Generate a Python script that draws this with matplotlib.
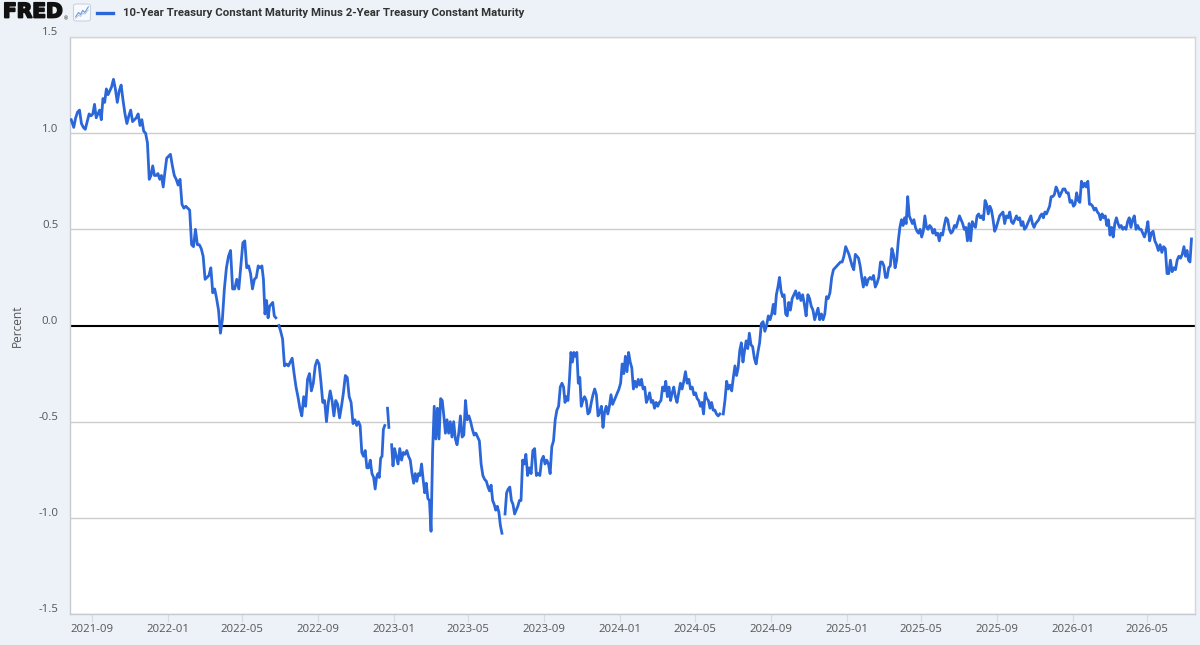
import numpy as np
import pandas as pd
import matplotlib
matplotlib.use("Agg")
import matplotlib.pyplot as plt
from matplotlib.lines import Line2D
from matplotlib.patches import FancyBboxPatch
import matplotlib.transforms as mtransforms
import matplotlib.patheffects as pe

# ---------------- data ----------------
series_name = "10-Year Treasury Constant Maturity Minus 2-Year Treasury Constant Maturity"
series_start = "2021-07-27"
series_end = "2026-07-12"
# values per calendar month, in order within the month; None = missing observation
monthly_values = {
    "2021-07": [1.07],
    "2021-08": [1.03, 1.08, 1.11, 1.12, 1.05, 1.03, 1.02, 1.06, 1.10, 1.09],
    "2021-09": [1.10, 1.15, 1.08, 1.10, 1.12, 1.07, 1.18, 1.16, 1.23, 1.20, 1.22],
    "2021-10": [1.24, 1.28, 1.23, 1.16, 1.22, 1.25, 1.17, 1.10, 1.05, 1.09],
    "2021-11": [1.12, 1.06, 1.07, 1.08, 1.10, 1.04, 1.07, 1.01, 1.00, 0.95],
    "2021-12": [0.76, 0.78, 0.83, 0.78, 0.78, 0.79, 0.76, 0.78, 0.72, 0.80, 0.87],
    "2022-01": [0.88, 0.89, 0.83, 0.78, 0.76, 0.73, 0.76, 0.63, 0.61, 0.62],
    "2022-02": [0.61, 0.60, 0.42, 0.41, 0.50, 0.42, 0.42, 0.40, 0.36],
    "2022-03": [0.24, 0.25, 0.26, 0.30, 0.17, 0.19, 0.14, 0.08, -0.04, 0.03],
    "2022-04": [0.19, 0.30, 0.36, 0.39, 0.19, 0.19, 0.24, 0.19, 0.31],
    "2022-05": [0.43, 0.44, 0.30, 0.31, 0.27, 0.19, 0.24, 0.25, 0.31, 0.30],
    "2022-06": [0.31, 0.24, 0.06, 0.13, 0.04, 0.10, 0.11, 0.12, 0.05, 0.04, None, 0.00],
    "2022-07": [-0.03, -0.07, -0.21, -0.20, -0.21, -0.19, -0.17, -0.25, -0.32, -0.37],
    "2022-08": [-0.43, -0.47, -0.37, -0.42, -0.28, -0.25, -0.34, -0.30, -0.21, -0.18],
    "2022-09": [-0.20, -0.29, -0.40, -0.39, -0.50, -0.40, -0.34, -0.39, -0.47, -0.39],
    "2022-10": [-0.41, -0.48, -0.42, -0.35, -0.26, -0.27, -0.37, -0.40, -0.51, -0.49],
    "2022-11": [-0.52, -0.50, -0.52, -0.66, -0.68, -0.65, -0.74, -0.74, -0.70, -0.77, -0.79],
    "2022-12": [-0.85, -0.79, -0.77, -0.79, -0.69, -0.68, -0.54, -0.52, None, -0.43, -0.53, None, -0.62, -0.73],
    "2023-01": [-0.64, -0.68, -0.72, -0.64, -0.70, -0.66, -0.67, -0.65, -0.68, -0.70, -0.77],
    "2023-02": [-0.82, -0.77, -0.81, -0.77, -0.78, -0.72, -0.80, -0.87, -0.82, -0.90, -0.91],
    "2023-03": [-1.07, -0.65, -0.42, -0.59, -0.43, -0.59, -0.38, -0.39, -0.47, -0.56, -0.49, -0.56],
    "2023-04": [-0.50, -0.58, -0.50, -0.59, -0.62, -0.56, -0.47, -0.58, -0.57, -0.39, -0.49],
    "2023-05": [-0.47, -0.50, -0.54, -0.57, -0.56, -0.58, -0.60, -0.72, -0.78, -0.80, -0.81],
    "2023-06": [-0.84, -0.86, -0.83, -0.91, -0.93, -0.96, -0.94, -0.97, -1.04, -1.08, None, -0.98],
    "2023-07": [-0.87, -0.85, -0.84, -0.91, -0.93, -0.98, -0.96, -0.94, -0.91, -0.91, -0.70, -0.72],
    "2023-08": [-0.67, -0.78, -0.74, -0.77, -0.65, -0.64, -0.78, -0.77, -0.78, -0.70, -0.68],
    "2023-09": [-0.72, -0.70, -0.72, -0.77, -0.63, -0.60, -0.49, -0.44, -0.42, -0.32, -0.30],
    "2023-10": [-0.32, -0.40, -0.37, -0.39, -0.28, -0.14, -0.19, -0.14, -0.16, -0.14, -0.30, -0.27, -0.42],
    "2023-11": [-0.39, -0.37, -0.39, -0.46, -0.45, -0.40, -0.36, -0.33, -0.36, -0.47, -0.45],
    "2023-12": [-0.42, -0.53, -0.45, -0.42, -0.46, -0.42, -0.36, -0.41, -0.39, -0.37, -0.35, -0.33],
    "2024-01": [-0.30, -0.20, -0.25, -0.16, -0.24, -0.14, -0.19, -0.22, -0.33, -0.29, -0.32, -0.28],
    "2024-02": [-0.31, -0.28, -0.33, -0.32, -0.40, -0.38, -0.35, -0.40, -0.39, -0.43, -0.40],
    "2024-03": [-0.42, -0.40, -0.39, -0.32, -0.34, -0.29, -0.37, -0.32, -0.39, -0.35, -0.32, -0.37],
    "2024-04": [-0.40, -0.35, -0.30, -0.33, -0.29, -0.24, -0.30, -0.28, -0.33, -0.32, -0.36],
    "2024-05": [-0.35, -0.38, -0.39, -0.42, -0.40, -0.46, -0.35, -0.38, -0.39, -0.43, -0.40, -0.44],
    "2024-06": [-0.44, -0.46, -0.47, -0.46, None, -0.46, -0.39, -0.29, -0.33, -0.31, -0.34],
    "2024-07": [-0.27, -0.21, -0.26, -0.22, -0.13, -0.09, -0.19, -0.13, -0.08, -0.12, -0.04, -0.10],
    "2024-08": [-0.11, -0.17, -0.20, -0.14, -0.09, 0.01, 0.02, -0.03, 0.00, 0.05, 0.03],
    "2024-09": [0.06, 0.11, 0.06, 0.16, 0.20, 0.25, 0.18, 0.15, 0.16, 0.06, 0.05, 0.12],
    "2024-10": [0.08, 0.14, 0.16, 0.18, 0.14, 0.17, 0.13, 0.16, 0.11, 0.05, 0.16],
    "2024-11": [0.14, 0.10, 0.08, 0.03, 0.06, 0.09, 0.03, 0.06, 0.03, 0.06, 0.15],
    "2024-12": [0.14, 0.17, 0.25, 0.29, 0.30, 0.31, 0.32, 0.33, 0.33, 0.36, 0.41],
    "2025-01": [0.39, 0.37, 0.34, 0.31, 0.29, 0.37, 0.36, 0.35, 0.31, 0.25, 0.20, 0.25],
    "2025-02": [0.21, 0.24, 0.25, 0.24, 0.26, 0.20, 0.22, 0.25, 0.33, 0.33],
    "2025-03": [0.31, 0.25, 0.25, 0.30, 0.31, 0.40, 0.37, 0.30, 0.34, 0.44, 0.51, 0.55],
    "2025-04": [0.52, 0.56, 0.53, 0.67, 0.57, 0.55, 0.53, 0.55, 0.51, 0.49, 0.48, 0.50],
    "2025-05": [0.46, 0.49, 0.57, 0.51, 0.50, 0.52, 0.51, 0.48, 0.50, 0.47, 0.48, 0.44],
    "2025-06": [0.48, 0.47, 0.52, 0.56, 0.55, 0.50, 0.48, 0.49, 0.52, 0.51, 0.54],
    "2025-07": [0.57, 0.55, 0.53, 0.50, 0.51, 0.44, 0.53, 0.44, 0.54, 0.52, 0.51, 0.57],
    "2025-08": [0.58, 0.56, 0.57, 0.55, 0.65, 0.63, 0.58, 0.62, 0.60, 0.55, 0.49, 0.51],
    "2025-09": [0.54, 0.57, 0.58, 0.59, 0.53, 0.57, 0.56, 0.59, 0.54, 0.53, 0.55],
    "2025-10": [0.57, 0.55, 0.56, 0.52, 0.54, 0.50, 0.51, 0.53, 0.55, 0.57, 0.53, 0.51],
    "2025-11": [0.53, 0.54, 0.55, 0.57, 0.58, 0.56, 0.59, 0.58, 0.60, 0.62, 0.67, 0.67],
    "2025-12": [0.68, 0.72, 0.70, 0.67, 0.69, 0.71, 0.71, 0.69, 0.69, 0.64, 0.65],
    "2026-01": [0.62, 0.63, 0.69, 0.65, 0.64, 0.75, 0.72, 0.74, 0.72, 0.75, 0.63, 0.63],
    "2026-02": [0.62, 0.60, 0.61, 0.59, 0.58, 0.55, 0.58, 0.56, 0.57, 0.52, 0.55],
    "2026-03": [0.47, 0.51, 0.46, 0.53, 0.56, 0.53, 0.51, 0.52, 0.50, 0.51, 0.50, 0.54],
    "2026-04": [0.56, 0.51, 0.55, 0.57, 0.50, 0.52, 0.50, 0.50, 0.48, 0.46, 0.49],
    "2026-05": [0.54, 0.44, 0.48, 0.49, 0.44, 0.42, 0.39, 0.42, 0.38, 0.41, 0.40],
    "2026-06": [0.27, 0.27, 0.34, 0.28, 0.30, 0.29, 0.34, 0.36, 0.35, 0.37, 0.41],
    "2026-07": [0.36, 0.39, 0.34, 0.33, 0.45],
}
y_ticks = [-1.5, -1.0, -0.5, 0.0, 0.5, 1.0, 1.5]
y_tick_labels = ["-1.5", "-1.0", "-0.5", "0.0", "0.5", "1.0", "1.5"]
x_tick_months = ["2021-09", "2022-01", "2022-05", "2022-09", "2023-01", "2023-05", "2023-09",
                 "2024-01", "2024-05", "2024-09", "2025-01", "2025-05", "2025-09", "2026-01",
                 "2026-05"]
x_view = ("2021-07-27 12:00", "2026-07-17 12:00")
y_label = "Percent"

# ---------------- build the series ----------------
start_ts = pd.Timestamp(series_start)
end_ts = pd.Timestamp(series_end) + pd.Timedelta(days=1)
dates, vals = [], []
for month, vs in monthly_values.items():
    ms = pd.Timestamp(month + "-01")
    me = ms + pd.offsets.MonthBegin(1)
    s = max(ms, start_ts)
    e = min(me, end_ts)
    n = len(vs)
    for i, v in enumerate(vs):
        dates.append(s + (e - s) * ((i + 0.5) / n))
        vals.append(np.nan if v is None else v)
dates = pd.to_datetime(dates)
vals = np.array(vals, dtype=float)

# ---------------- style ----------------
BG = "#edf2f8"
LINE = "#2b67d8"
GRID = "#cccccc"
TXT = "#555555"

plt.rcParams["font.family"] = ["Open Sans", "DejaVu Sans"]

fig = plt.figure(figsize=(12, 6.45), dpi=100, facecolor=BG)
W, H = 1200, 645
ax = fig.add_axes([70 / W, 1 - 614 / H, 1125 / W, (614 - 37) / H])
ax.set_facecolor("white")

ax.plot(dates, vals, color=LINE, lw=2.0, solid_joinstyle="round", zorder=3)

ax.set_xlim(pd.Timestamp(x_view[0]), pd.Timestamp(x_view[1]))
ax.set_ylim(-1.5, 1.5)

ax.set_yticks(y_ticks)
ax.set_yticklabels(y_tick_labels)
ax.set_xticks(pd.to_datetime([m + "-01" for m in x_tick_months]))
ax.set_xticklabels(x_tick_months)

for y in y_ticks:
    if y == 0:
        ax.axhline(0, color="#000000", lw=1.5, zorder=2)
    else:
        ax.axhline(y, color=GRID, lw=1.0, zorder=1)

for side in ["top", "right"]:
    ax.spines[side].set_color("#d6d6d6")
    ax.spines[side].set_linewidth(1.0)
for side in ["left", "bottom"]:
    ax.spines[side].set_color("#c6cbd3")
    ax.spines[side].set_linewidth(1.0)

ax.tick_params(axis="y", length=0, pad=8.5, labelsize=8.2, labelcolor=TXT)
ax.tick_params(axis="x", length=6, width=0.8, color="#d5dbe3", pad=1,
               labelsize=8.2, labelcolor=TXT)
# labels sit a little above their grid line, as in the reference
offset = mtransforms.ScaledTranslation(0, 4 / 72, fig.dpi_scale_trans)
for lab in ax.get_yticklabels():
    lab.set_transform(lab.get_transform() + offset)

ax.set_ylabel(y_label, fontsize=8.6, color=TXT)
ax.yaxis.set_label_coords(-(70 - 24) / 1125, 0.5)

# ---------------- header ----------------
fig.text(3 / W, 1 - 12 / H, "FRED", fontsize=14.5, fontweight="bold",
         family=["DejaVu Sans"], color="#111111", va="center", ha="left",
         path_effects=[pe.Stroke(linewidth=1.3, foreground="#111111"), pe.Normal()])
fig.text(64 / W, 1 - 19 / H, "®", fontsize=3.5, color="#111111", va="center", ha="left")
fig.add_artist(FancyBboxPatch((73.5 / W, 1 - 21 / H), 17 / W, 17 / H,
                              boxstyle="round,pad=0,rounding_size=0.003",
                              transform=fig.transFigure, facecolor="#f8fafd",
                              edgecolor="#c9d3e0", lw=0.8, zorder=1))
icon = fig.add_axes([75 / W, 1 - 19.5 / H, 14 / W, 14 / H])
icon.set_zorder(5)
icon.axis("off")
icon.set_xlim(0, 10)
icon.set_ylim(0, 10)
icon.plot([0.5, 2.5, 4, 5.5, 7, 9.5], [2, 5, 3.5, 6.5, 5, 9], color="#6f98d6", lw=0.8)
icon.plot([0.5, 2.5, 4, 5.5, 7, 9.5], [0.8, 3, 2.2, 4.5, 3.8, 6.8], color="#a9c0e4", lw=0.6)
fig.add_artist(Line2D([97 / W, 113 / W], [1 - 13 / H, 1 - 13 / H], color=LINE, lw=2.4,
                      transform=fig.transFigure))
fig.text(123 / W, 1 - 13 / H, series_name, fontsize=8.2, fontweight="bold",
         family=["Roboto", "DejaVu Sans"], color="#333333", va="center", ha="left")

fig.savefig("out.png", dpi=100, facecolor=BG)
